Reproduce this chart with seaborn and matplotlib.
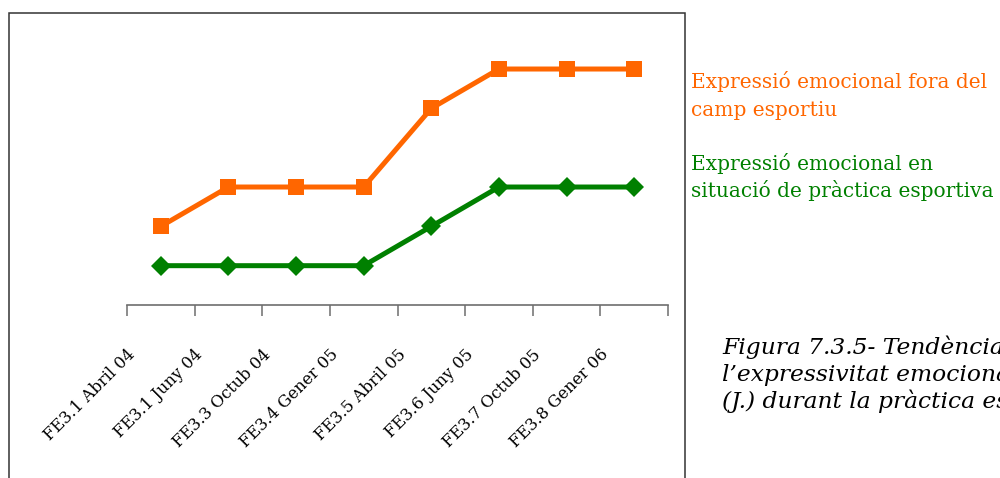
import matplotlib
matplotlib.use("Agg")
import matplotlib.pyplot as plt
import matplotlib.patches as mpatches
from matplotlib.transforms import ScaledTranslation
import seaborn as sns
import pandas as pd

# ---- data ----
categories = ["FE3.1 Abril 04", "FE3.1 Juny 04", "FE3.3 Octub 04", "FE3.4 Gener 05",
              "FE3.5 Abril 05", "FE3.6 Juny 05", "FE3.7 Octub 05", "FE3.8 Gener 06"]
fora_camp = [2, 3, 3, 3, 5, 6, 6, 6]
practica = [1, 1, 1, 1, 2, 3, 3, 3]
orange_label_lines = ["Expressió emocional fora del", "camp esportiu"]
green_label_lines = ["Expressió emocional en", "situació de pràctica esportiva"]
caption_lines = ["Figura 7.3.5- Tendència de",
                 "l\u2019expressivitat emocional de",
                 "(J.) durant la pràctica esportiva"]

ORANGE = "#FF6600"
GREEN = "#008000"

sns.set_theme(style="white")
plt.rcParams["font.family"] = ["DejaVu Serif", "DejaVu Sans"]

fig = plt.figure(figsize=(10, 4.78), dpi=100)
fig.patch.set_facecolor("white")
H = 478.0
ax = fig.add_axes([0.127, 0.3619, 0.541, 0.576])
ax.set_facecolor("none")

pos = list(range(len(categories)))
df = pd.DataFrame({"pos": pos, "fora": fora_camp, "prac": practica})

sns.lineplot(data=df, x="pos", y="fora", ax=ax, color=ORANGE, linewidth=3.6,
             marker="s", markersize=12, markeredgewidth=0, markerfacecolor=ORANGE)
sns.lineplot(data=df, x="pos", y="prac", ax=ax, color=GREEN, linewidth=3.6,
             marker="D", markersize=10, markeredgewidth=0, markerfacecolor=GREEN)

ax.set_xlim(-0.5, len(categories) - 0.5)
ax.set_ylim(0, 7)
ax.set_xlabel("")
ax.set_ylabel("")
ax.set_yticks([])

for s in ["top", "left", "right"]:
    ax.spines[s].set_visible(False)
ax.spines["bottom"].set_color("#6e6e6e")
ax.spines["bottom"].set_linewidth(1.2)

# major ticks at category boundaries (no labels)
ax.set_xticks([p - 0.5 for p in pos] + [len(categories) - 0.5])
ax.set_xticklabels([])
ax.tick_params(axis="x", which="major", direction="out", length=8, width=1.1,
               color="#6e6e6e", bottom=True)
# minor ticks at category centers, carry labels
ax.set_xticks(pos, minor=True)
ax.set_xticklabels(categories, minor=True)
ax.tick_params(axis="x", which="minor", length=0, pad=34, labelsize=11.8,
               labelcolor="black")
offset = ScaledTranslation(-0.28, 0, fig.dpi_scale_trans)
for lab in ax.get_xticklabels(minor=True):
    lab.set_rotation(45)
    lab.set_rotation_mode("anchor")
    lab.set_ha("right")
    lab.set_va("center")
    lab.set_transform(lab.get_transform() + offset)

# chart-area frame
frame = mpatches.Rectangle((0.009, -0.1), 0.676, 0.9728 + 0.1,
                           transform=fig.transFigure, fill=False,
                           edgecolor="#333333", linewidth=1.1, zorder=0)
fig.patches.append(frame)

# side legend texts
for txt, yb in zip(orange_label_lines, [88, 116]):
    fig.text(0.691, 1 - yb / H, txt, color=ORANGE, fontsize=14.5,
             va="baseline", ha="left")
for txt, yb in zip(green_label_lines, [170, 197]):
    fig.text(0.691, 1 - yb / H, txt, color=GREEN, fontsize=14.5,
             va="baseline", ha="left")

# caption (cut by the figure edge as in the reference)
for txt, yb in zip(caption_lines, [354, 381, 408]):
    fig.text(0.722, 1 - yb / H, txt, color="black", fontsize=16.8,
             style="italic", va="baseline", ha="left")

fig.savefig("out.png", dpi=100)
